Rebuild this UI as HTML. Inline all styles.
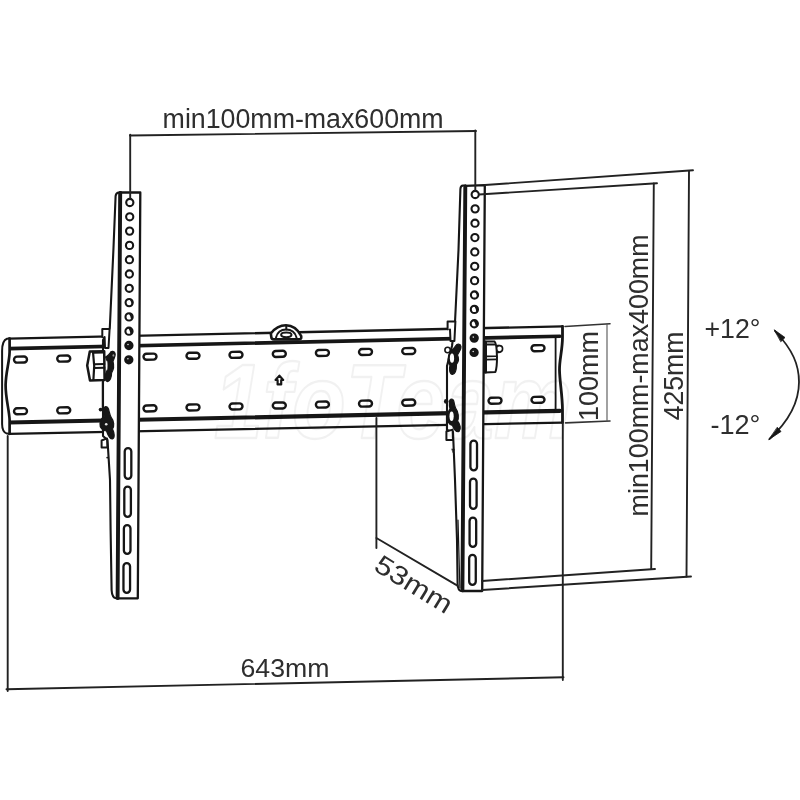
<!DOCTYPE html>
<html lang="en"><head><meta charset="utf-8"><title>TV wall mount dimensions</title>
<style>
html,body{margin:0;padding:0;background:#fff;}
body{width:800px;height:800px;overflow:hidden;}
svg{display:block;filter:grayscale(1);}
svg text{opacity:.999;font-family:"Liberation Sans","DejaVu Sans",sans-serif;}
</style></head>
<body>
<svg width="800" height="800" viewBox="0 0 800 800" stroke-linecap="round" stroke-linejoin="round">
<rect width="800" height="800" fill="#fff"/>
<!-- wall plate -->
<path d="M9,338.40 L562.5,325.94 L562.5,422.58 L9,433.82 Z" stroke="#161616" stroke-width="0" fill="#fff" />
<line x1="9.00" y1="338.70" x2="562.50" y2="326.34" stroke="#161616" stroke-width="2.3" />
<line x1="9.00" y1="348.60" x2="560.00" y2="336.20" stroke="#161616" stroke-width="3.6" />
<line x1="9.00" y1="422.51" x2="560.00" y2="410.83" stroke="#161616" stroke-width="4.2" />
<line x1="9.00" y1="433.82" x2="562.50" y2="422.58" stroke="#161616" stroke-width="2.3" />
<path d="M9.6,338.5 L7,338.8 C3.5,340 2.1,345 2.1,351 L2.1,424 C2.1,429 3.5,432.6 7,433.6 L9.6,433.8" stroke="#161616" stroke-width="2.0" fill="#fff" />
<path d="M9.6,338.5 L9.6,352 C9.4,362 5.8,372 5.6,385 C5.5,398 9.2,410 9.6,420 L9.6,433.8" stroke="#161616" stroke-width="2.7" fill="none" />
<path d="M562.5,326.3 L562.5,337 C562.5,350 559.3,360 559.5,370 C559.7,382 562.4,395 562.5,410 L562.5,422.6" stroke="#161616" stroke-width="2.8" fill="none" />
<line x1="555.60" y1="337.00" x2="555.60" y2="410.00" stroke="#161616" stroke-width="1.8" />
<!-- plate slots -->
<rect x="14.00" y="356.55" width="13.00" height="6.00" rx="3.00" fill="#fff" stroke="#161616" stroke-width="2.4" transform="rotate(-1.2 20.50 359.55)"/>
<rect x="14.00" y="408.24" width="13.00" height="6.00" rx="3.00" fill="#fff" stroke="#161616" stroke-width="2.4" transform="rotate(-1.2 20.50 411.24)"/>
<rect x="57.25" y="355.60" width="13.00" height="6.00" rx="3.00" fill="#fff" stroke="#161616" stroke-width="2.4" transform="rotate(-1.2 63.75 358.60)"/>
<rect x="57.25" y="407.28" width="13.00" height="6.00" rx="3.00" fill="#fff" stroke="#161616" stroke-width="2.4" transform="rotate(-1.2 63.75 410.28)"/>
<rect x="143.50" y="353.70" width="13.00" height="6.00" rx="3.00" fill="#fff" stroke="#161616" stroke-width="2.4" transform="rotate(-1.2 150.00 356.70)"/>
<rect x="143.50" y="405.37" width="13.00" height="6.00" rx="3.00" fill="#fff" stroke="#161616" stroke-width="2.4" transform="rotate(-1.2 150.00 408.37)"/>
<rect x="186.50" y="352.75" width="13.00" height="6.00" rx="3.00" fill="#fff" stroke="#161616" stroke-width="2.4" transform="rotate(-1.2 193.00 355.75)"/>
<rect x="186.50" y="404.42" width="13.00" height="6.00" rx="3.00" fill="#fff" stroke="#161616" stroke-width="2.4" transform="rotate(-1.2 193.00 407.42)"/>
<rect x="229.50" y="351.81" width="13.00" height="6.00" rx="3.00" fill="#fff" stroke="#161616" stroke-width="2.4" transform="rotate(-1.2 236.00 354.81)"/>
<rect x="229.50" y="403.46" width="13.00" height="6.00" rx="3.00" fill="#fff" stroke="#161616" stroke-width="2.4" transform="rotate(-1.2 236.00 406.46)"/>
<rect x="272.80" y="350.86" width="13.00" height="6.00" rx="3.00" fill="#fff" stroke="#161616" stroke-width="2.4" transform="rotate(-1.2 279.30 353.86)"/>
<rect x="272.80" y="402.50" width="13.00" height="6.00" rx="3.00" fill="#fff" stroke="#161616" stroke-width="2.4" transform="rotate(-1.2 279.30 405.50)"/>
<rect x="315.90" y="349.91" width="13.00" height="6.00" rx="3.00" fill="#fff" stroke="#161616" stroke-width="2.4" transform="rotate(-1.2 322.40 352.91)"/>
<rect x="315.90" y="401.54" width="13.00" height="6.00" rx="3.00" fill="#fff" stroke="#161616" stroke-width="2.4" transform="rotate(-1.2 322.40 404.54)"/>
<rect x="359.00" y="348.96" width="13.00" height="6.00" rx="3.00" fill="#fff" stroke="#161616" stroke-width="2.4" transform="rotate(-1.2 365.50 351.96)"/>
<rect x="359.00" y="400.59" width="13.00" height="6.00" rx="3.00" fill="#fff" stroke="#161616" stroke-width="2.4" transform="rotate(-1.2 365.50 403.59)"/>
<rect x="402.25" y="348.01" width="13.00" height="6.00" rx="3.00" fill="#fff" stroke="#161616" stroke-width="2.4" transform="rotate(-1.2 408.75 351.01)"/>
<rect x="402.25" y="399.63" width="13.00" height="6.00" rx="3.00" fill="#fff" stroke="#161616" stroke-width="2.4" transform="rotate(-1.2 408.75 402.63)"/>
<rect x="488.50" y="346.11" width="13.00" height="6.00" rx="3.00" fill="#fff" stroke="#161616" stroke-width="2.4" transform="rotate(-1.2 495.00 349.11)"/>
<rect x="488.50" y="397.71" width="13.00" height="6.00" rx="3.00" fill="#fff" stroke="#161616" stroke-width="2.4" transform="rotate(-1.2 495.00 400.71)"/>
<rect x="531.50" y="345.16" width="13.00" height="6.00" rx="3.00" fill="#fff" stroke="#161616" stroke-width="2.4" transform="rotate(-1.2 538.00 348.16)"/>
<rect x="531.50" y="396.76" width="13.00" height="6.00" rx="3.00" fill="#fff" stroke="#161616" stroke-width="2.4" transform="rotate(-1.2 538.00 399.76)"/>
<!-- centre arrow -->
<path d="M279.4,375.6 L283.2,380 L281.2,380 L281.2,384.4 L277.6,384.4 L277.6,380 L275.6,380 Z" stroke="#161616" stroke-width="2.2" fill="none" />
<!-- top hook -->
<path d="M270.8,333.5 C275,328 280,325.3 286,325.3 C292,325.3 297,328 301.2,336 L301.2,338 C301,339.2 300,339.4 298,339.4 L274,339.4 C272,339.4 271.3,338.6 271.3,337 Z" stroke="#161616" stroke-width="2.6" fill="#fff" />
<path d="M276,337.5 C277.5,332 281,329.6 286,329.6 C291,329.6 295,332 296.5,337.5" stroke="#161616" stroke-width="2.0" fill="none" />
<ellipse cx="286.3" cy="334.8" rx="5.2" ry="2.4" fill="#fff" stroke="#161616" stroke-width="2.0"/>
<line x1="286.30" y1="326.00" x2="286.30" y2="329.50" stroke="#161616" stroke-width="2.0" />
<!-- left arm -->
<path d="M119,192.5 Q116,192.6 115.6,196 L113.4,250 L109.8,328 L103,340 L103,436 L107.5,440 L110,480 L110.6,530 L111.6,590 Q112,597.6 116,598.3 L119,598.3 L121,192.5 Z" stroke="#161616" stroke-width="2.1" fill="#fff" />
<path d="M120,192.5 L140.3,192.5 L137.8,598.3 L117.5,598.3 Z" stroke="#161616" stroke-width="2.3" fill="#fff" />
<line x1="120.20" y1="193.00" x2="117.60" y2="598.00" stroke="#161616" stroke-width="3.9" />
<circle cx="129.80" cy="202.50" r="3.6" fill="#fff" stroke="#161616" stroke-width="2.1"/>
<circle cx="129.71" cy="216.80" r="3.6" fill="#fff" stroke="#161616" stroke-width="2.1"/>
<circle cx="129.62" cy="231.10" r="3.6" fill="#fff" stroke="#161616" stroke-width="2.1"/>
<circle cx="129.53" cy="245.40" r="3.6" fill="#fff" stroke="#161616" stroke-width="2.1"/>
<circle cx="129.44" cy="259.70" r="3.6" fill="#fff" stroke="#161616" stroke-width="2.1"/>
<circle cx="129.35" cy="274.00" r="3.6" fill="#fff" stroke="#161616" stroke-width="2.1"/>
<circle cx="129.26" cy="288.30" r="3.6" fill="#fff" stroke="#161616" stroke-width="2.1"/>
<path d="M129.26,285.10 A3.2,3.2 0 0 1 129.26,291.50 A2.60,3.2 0 0 0 129.26,285.10 Z" fill="#161616" transform="rotate(-20 129.26 288.30)"/>
<circle cx="129.17" cy="302.60" r="3.6" fill="#fff" stroke="#161616" stroke-width="2.1"/>
<path d="M129.17,299.40 A3.2,3.2 0 0 1 129.17,305.80 A2.00,3.2 0 0 0 129.17,299.40 Z" fill="#161616" transform="rotate(-20 129.17 302.60)"/>
<circle cx="129.08" cy="316.90" r="3.6" fill="#fff" stroke="#161616" stroke-width="2.1"/>
<path d="M129.08,313.70 A3.2,3.2 0 0 1 129.08,320.10 A1.40,3.2 0 0 0 129.08,313.70 Z" fill="#161616" transform="rotate(-20 129.08 316.90)"/>
<circle cx="128.99" cy="331.20" r="3.6" fill="#fff" stroke="#161616" stroke-width="2.1"/>
<path d="M128.99,328.00 A3.2,3.2 0 0 1 128.99,334.40 A0.80,3.2 0 0 0 128.99,328.00 Z" fill="#161616" transform="rotate(-20 128.99 331.20)"/>
<circle cx="128.90" cy="345.50" r="3.6" fill="#fff" stroke="#161616" stroke-width="2.1"/>
<circle cx="128.90" cy="345.50" r="3.6" fill="#161616"/>
<circle cx="128.00" cy="344.50" r="0.8" fill="#ddd"/>
<circle cx="128.81" cy="359.80" r="3.6" fill="#fff" stroke="#161616" stroke-width="2.1"/>
<circle cx="128.81" cy="359.80" r="3.6" fill="#161616"/>
<circle cx="127.91" cy="358.80" r="0.8" fill="#ddd"/>
<rect x="124.72" y="448.15" width="6.60" height="30.70" rx="3.30" fill="#fff" stroke="#161616" stroke-width="2.3"/>
<rect x="124.30" y="486.65" width="6.60" height="30.20" rx="3.30" fill="#fff" stroke="#161616" stroke-width="2.3"/>
<rect x="123.88" y="525.15" width="6.60" height="28.70" rx="3.30" fill="#fff" stroke="#161616" stroke-width="2.3"/>
<rect x="123.46" y="563.15" width="6.60" height="29.70" rx="3.30" fill="#fff" stroke="#161616" stroke-width="2.3"/>
<!-- right arm -->
<path d="M463,185.5 Q460.6,185.6 460.4,189 L458.5,250 L455.6,310 L455,322 L452,346 L447,366 L447,430 L453,432 L455,480 L457,540 L457.6,584 Q458,590.6 461,591 L464,591 L465.4,185.5 Z" stroke="#161616" stroke-width="2.1" fill="#fff" />
<path d="M465.4,185.9 L484.8,185.2 L482.2,591 L462.5,591 Z" stroke="#161616" stroke-width="2.3" fill="#fff" />
<line x1="465.30" y1="186.40" x2="462.40" y2="590.40" stroke="#161616" stroke-width="3.9" />
<line x1="458.00" y1="520.00" x2="459.90" y2="588.00" stroke="#161616" stroke-width="1.2" />
<circle cx="475.20" cy="194.50" r="3.6" fill="#fff" stroke="#161616" stroke-width="2.1"/>
<circle cx="475.10" cy="208.86" r="3.6" fill="#fff" stroke="#161616" stroke-width="2.1"/>
<circle cx="475.00" cy="223.22" r="3.6" fill="#fff" stroke="#161616" stroke-width="2.1"/>
<circle cx="474.90" cy="237.58" r="3.6" fill="#fff" stroke="#161616" stroke-width="2.1"/>
<circle cx="474.80" cy="251.94" r="3.6" fill="#fff" stroke="#161616" stroke-width="2.1"/>
<circle cx="474.70" cy="266.30" r="3.6" fill="#fff" stroke="#161616" stroke-width="2.1"/>
<circle cx="474.60" cy="280.66" r="3.6" fill="#fff" stroke="#161616" stroke-width="2.1"/>
<path d="M474.60,277.46 A3.2,3.2 0 0 1 474.60,283.86 A2.60,3.2 0 0 0 474.60,277.46 Z" fill="#161616" transform="rotate(-20 474.60 280.66)"/>
<circle cx="474.50" cy="295.02" r="3.6" fill="#fff" stroke="#161616" stroke-width="2.1"/>
<path d="M474.50,291.82 A3.2,3.2 0 0 1 474.50,298.22 A2.00,3.2 0 0 0 474.50,291.82 Z" fill="#161616" transform="rotate(-20 474.50 295.02)"/>
<circle cx="474.40" cy="309.38" r="3.6" fill="#fff" stroke="#161616" stroke-width="2.1"/>
<path d="M474.40,306.18 A3.2,3.2 0 0 1 474.40,312.58 A1.40,3.2 0 0 0 474.40,306.18 Z" fill="#161616" transform="rotate(-20 474.40 309.38)"/>
<circle cx="474.30" cy="323.74" r="3.6" fill="#fff" stroke="#161616" stroke-width="2.1"/>
<path d="M474.30,320.54 A3.2,3.2 0 0 1 474.30,326.94 A0.80,3.2 0 0 0 474.30,320.54 Z" fill="#161616" transform="rotate(-20 474.30 323.74)"/>
<circle cx="474.20" cy="338.10" r="3.6" fill="#fff" stroke="#161616" stroke-width="2.1"/>
<circle cx="474.20" cy="338.10" r="3.6" fill="#161616"/>
<circle cx="473.30" cy="337.10" r="0.8" fill="#ddd"/>
<circle cx="474.10" cy="352.46" r="3.6" fill="#fff" stroke="#161616" stroke-width="2.1"/>
<circle cx="474.10" cy="352.46" r="3.6" fill="#161616"/>
<circle cx="473.20" cy="351.46" r="0.8" fill="#ddd"/>
<rect x="470.42" y="440.65" width="6.60" height="29.70" rx="3.30" fill="#fff" stroke="#161616" stroke-width="2.3"/>
<rect x="470.00" y="478.65" width="6.60" height="30.20" rx="3.30" fill="#fff" stroke="#161616" stroke-width="2.3"/>
<rect x="469.58" y="517.65" width="6.60" height="29.20" rx="3.30" fill="#fff" stroke="#161616" stroke-width="2.3"/>
<rect x="469.17" y="554.95" width="6.60" height="29.90" rx="3.30" fill="#fff" stroke="#161616" stroke-width="2.3"/>
<!-- left knob -->
<path d="M102.3,337 L102.3,329 L109.6,329 L108.5,348 L105,348 L104.6,337" stroke="#161616" stroke-width="2.0" fill="#fff" />
<path d="M89.8,351.4 L104.2,351.2 L104.6,380 L90,380.4 L87.2,365.6 Z" stroke="#161616" stroke-width="2.5" fill="#fff" />
<path d="M93,351.8 L94.2,366 L93.4,380" stroke="#161616" stroke-width="2.2" fill="none" />
<line x1="93.60" y1="352.60" x2="104.00" y2="352.50" stroke="#161616" stroke-width="2.2" />
<line x1="94.40" y1="364.20" x2="104.40" y2="364.10" stroke="#161616" stroke-width="2.0" />
<line x1="94.40" y1="367.90" x2="104.40" y2="367.80" stroke="#161616" stroke-width="2.0" />
<line x1="102.80" y1="382.00" x2="102.80" y2="409.00" stroke="#161616" stroke-width="2.0" />
<path d="M105.6,357 C107,356 109,355 110,353 C111,350.4 115,350.8 115.2,354 C115.4,357 113.5,359 113,361.5 C114,365 113.5,370 111.6,373 C111.6,377 110,381.6 107.6,381.6 C105.2,381 105.2,377 105.6,374 C107.6,371 108,362 105.6,357 Z" stroke="#161616" stroke-width="1.2" fill="#161616" />
<ellipse cx="113.4" cy="355.4" rx="0.9" ry="1.2" fill="#999"/>
<ellipse cx="106.7" cy="365.6" rx="0.8" ry="5" fill="#fff"/>
<path d="M104.5,409 C103.5,406 107.5,405.5 108.5,409 C109.5,413 110,416 111.5,418 C114,421 114.5,426 112.5,429 C114.5,433 115,438 112.5,439 C109.5,439 107.5,434 106.5,431 C103,431 99.5,428 100,423.5 C100.5,419.5 103,417 104.5,416 C103,413 103.5,411 104.5,409 Z" stroke="#161616" stroke-width="1.2" fill="#161616" />
<circle cx="100.6" cy="409.6" r="1.9" fill="#161616"/>
<circle cx="106.2" cy="424.2" r="1.3" fill="#e8e8e8"/>
<path d="M101.6,440.5 L101.6,447.4 L107.4,447.4 L107,438.4 Z" stroke="#161616" stroke-width="2.0" fill="#fff" />
<circle cx="107.2" cy="457.6" r="0.9" fill="#161616"/>
<!-- right arm hardware -->
<path d="M447.6,329.2 L447.6,321.4 L455.4,321.4 L454.4,341 L450.5,341 L450,329.5" stroke="#161616" stroke-width="2.0" fill="#fff" />
<line x1="447.00" y1="366.00" x2="447.00" y2="400.00" stroke="#161616" stroke-width="2.0" />
<circle cx="447.6" cy="350" r="2.7" fill="#fff" stroke="#161616" stroke-width="1.6"/>
<path d="M450,352 C452,349.5 454,348.5 455.5,346 C457,343.5 460.5,343.5 461,346.5 C461.5,350 458.5,352.5 457.5,355 C459,358 458.5,362 456.5,364.5 C456.5,369 455.5,374 452.5,374.4 C449.5,374 449,369 450,365.5 C447.5,363 447.5,356 450,352 Z" stroke="#161616" stroke-width="1.2" fill="#161616" />
<ellipse cx="452" cy="358.2" rx="2.1" ry="4.6" fill="#fff"/>
<circle cx="446.2" cy="401.4" r="2.3" fill="#161616"/>
<path d="M449.5,402 C449.5,398 453.5,398 454,402 C454.5,405 455,407 456,409 C458.5,412 459,418 457.5,421 C460,424 461.5,429 459,431.5 C456,432.5 453.5,428.5 452.5,425.5 C449.5,425.5 447,421 447.5,416 C448,412 449,410 450,408.5 C449,406 449.3,404 449.5,402 Z" stroke="#161616" stroke-width="1.2" fill="#161616" />
<ellipse cx="451.6" cy="416.2" rx="2.1" ry="4.8" fill="#fff"/>
<path d="M446.4,431.5 L446.4,440 L453,440 L452.6,429.6 Z" stroke="#161616" stroke-width="2.0" fill="#fff" />
<path d="M452,449 L454.4,449.4 L453.2,452.4 Z" stroke="#161616" stroke-width="0.6" fill="#161616" />
<circle cx="499.4" cy="348.8" r="3.2" fill="#fff" stroke="#161616" stroke-width="1.6"/>
<path d="M485,341.6 L494.6,341.6 Q496.6,343 497,357 Q497,368 495.4,372 L485,372.4 Z" stroke="#161616" stroke-width="2.0" fill="#fff" />
<line x1="485.50" y1="344.40" x2="494.60" y2="344.40" stroke="#161616" stroke-width="2.0" />
<line x1="486.00" y1="356.40" x2="496.60" y2="356.20" stroke="#161616" stroke-width="1.6" />
<line x1="486.00" y1="359.60" x2="496.60" y2="359.40" stroke="#161616" stroke-width="1.6" />
<line x1="485.40" y1="342.00" x2="485.40" y2="372.00" stroke="#161616" stroke-width="3.2" />
<!-- dimensions -->
<line x1="130.20" y1="134.80" x2="130.20" y2="198.00" stroke="#222" stroke-width="1.9" />
<line x1="475.30" y1="130.50" x2="475.30" y2="190.50" stroke="#222" stroke-width="1.9" />
<line x1="130.00" y1="135.50" x2="476.00" y2="131.00" stroke="#222" stroke-width="1.9" />
<line x1="485.00" y1="185.00" x2="693.00" y2="170.30" stroke="#222" stroke-width="1.9" />
<line x1="482.00" y1="590.00" x2="691.00" y2="576.50" stroke="#222" stroke-width="1.9" />
<line x1="689.00" y1="171.00" x2="686.50" y2="576.50" stroke="#222" stroke-width="1.9" />
<line x1="479.00" y1="194.50" x2="657.00" y2="183.20" stroke="#222" stroke-width="1.9" />
<line x1="482.00" y1="581.00" x2="655.00" y2="569.00" stroke="#222" stroke-width="1.9" />
<line x1="653.80" y1="183.50" x2="651.20" y2="569.00" stroke="#222" stroke-width="1.9" />
<line x1="565.00" y1="326.50" x2="610.00" y2="323.80" stroke="#333" stroke-width="1.6" />
<line x1="565.60" y1="422.90" x2="610.00" y2="421.00" stroke="#333" stroke-width="1.6" />
<line x1="607.00" y1="324.00" x2="607.00" y2="421.00" stroke="#555" stroke-width="1.1" />
<line x1="7.70" y1="436.00" x2="7.70" y2="691.00" stroke="#222" stroke-width="1.9" />
<line x1="562.80" y1="423.00" x2="562.80" y2="680.00" stroke="#222" stroke-width="1.9" />
<line x1="6.50" y1="689.30" x2="563.50" y2="677.30" stroke="#222" stroke-width="1.9" />
<line x1="376.40" y1="418.00" x2="376.40" y2="548.00" stroke="#222" stroke-width="1.9" />
<line x1="376.40" y1="538.00" x2="457.40" y2="585.60" stroke="#222" stroke-width="1.9" />
<!-- labels -->
<text x="162.6" y="128.4" font-size="27" fill="#2e2e2e" text-anchor="start" textLength="281" lengthAdjust="spacingAndGlyphs">min100mm-max600mm</text>
<text x="597.7" y="420.9" font-size="28.5" fill="#2e2e2e" text-anchor="start" textLength="90" lengthAdjust="spacingAndGlyphs" transform="rotate(-90 597.7 420.9)">100mm</text>
<text x="648.5" y="516.4" font-size="28" fill="#2e2e2e" text-anchor="start" textLength="282" lengthAdjust="spacingAndGlyphs" transform="rotate(-90 648.5 516.4)">min100mm-max400mm</text>
<text x="683.4" y="420.3" font-size="28" fill="#2e2e2e" text-anchor="start" textLength="88.8" lengthAdjust="spacingAndGlyphs" transform="rotate(-90 683.4 420.3)">425mm</text>
<text x="240.5" y="676.6" font-size="26.5" fill="#2e2e2e" text-anchor="start" textLength="89" lengthAdjust="spacingAndGlyphs">643mm</text>
<text x="372.4" y="569.6" font-size="26.5" fill="#2e2e2e" text-anchor="start" textLength="86" lengthAdjust="spacingAndGlyphs" transform="rotate(31.5 372.4 569.6)">53mm</text>
<text x="704.5" y="338" font-size="27" fill="#2e2e2e" text-anchor="start" textLength="56" lengthAdjust="spacingAndGlyphs">+12°</text>
<text x="710.4" y="434" font-size="27" fill="#2e2e2e" text-anchor="start" textLength="50" lengthAdjust="spacingAndGlyphs">-12°</text>
<!-- watermark -->
<text x="214" y="438" font-size="106" font-weight="bold" font-style="italic" fill="none" stroke="#000" stroke-opacity="0.055" stroke-width="2.4" textLength="358" lengthAdjust="spacingAndGlyphs">1foTeam</text>
<!-- tilt arc -->
<path d="M775,331 C793,350 799,365 799,382 C799,400 790,420 769.5,439" stroke="#222" stroke-width="1.8" fill="none" />
<path d="M774.5,330 L785,337.5 L781,341.5 Z" stroke="#161616" stroke-width="0.8" fill="#161616" />
<path d="M769,439.5 L781,431.5 L777.5,427.5 Z" stroke="#161616" stroke-width="0.8" fill="#161616" />
</svg>
</body></html>
